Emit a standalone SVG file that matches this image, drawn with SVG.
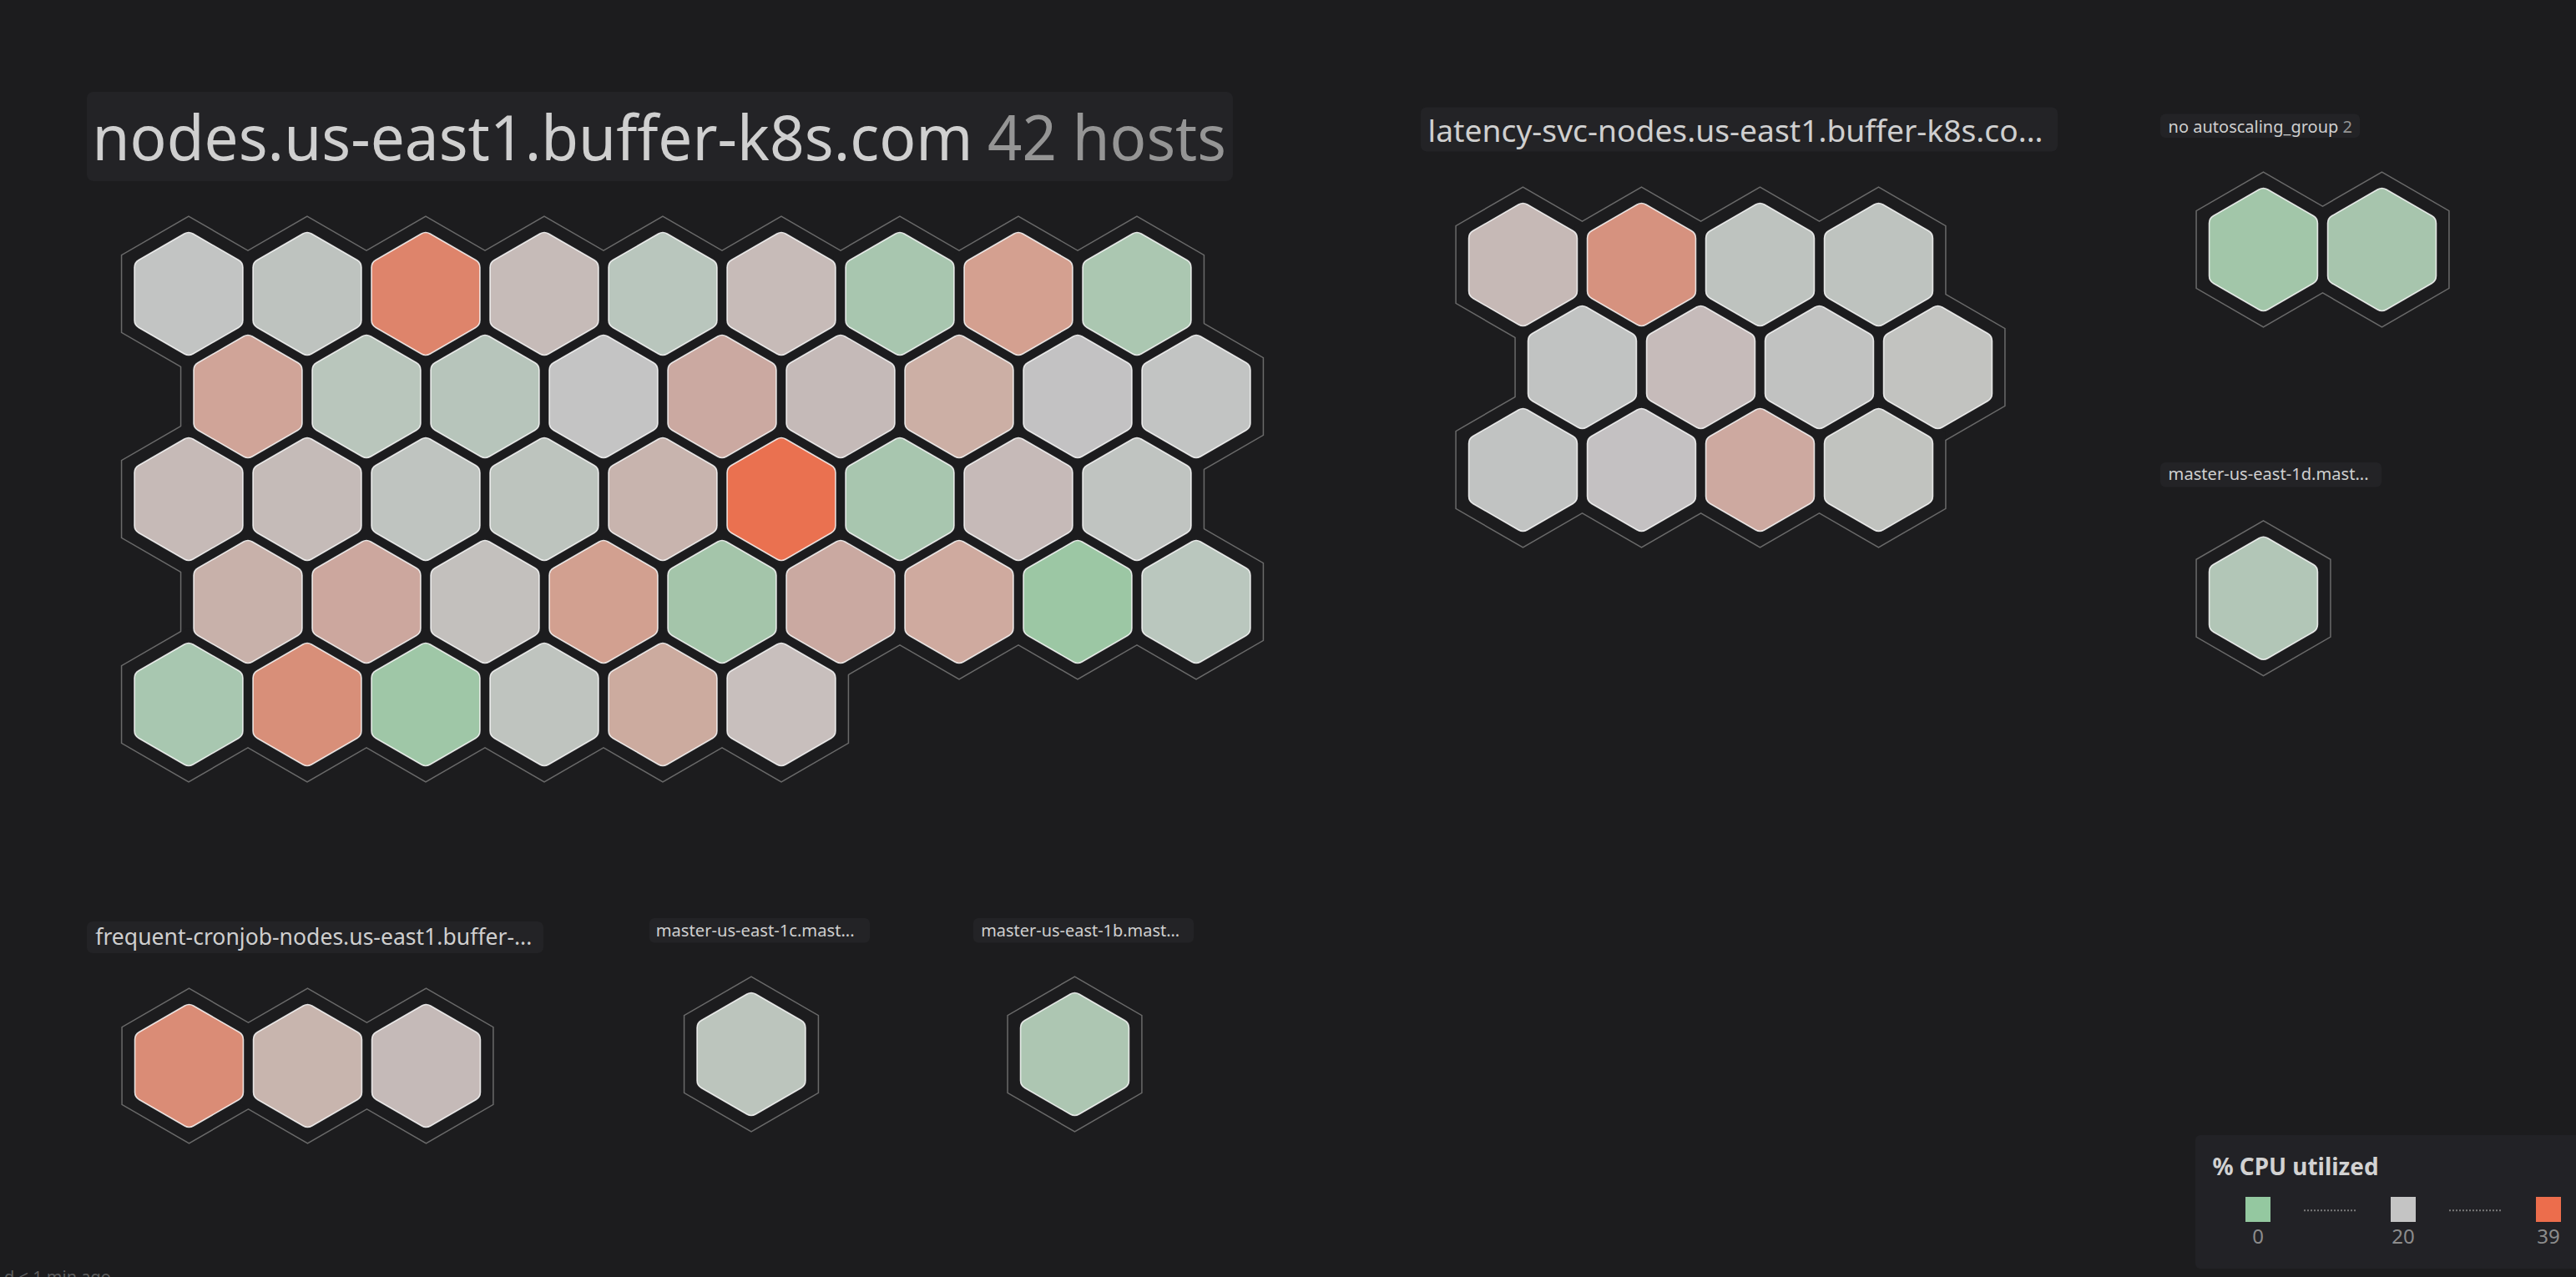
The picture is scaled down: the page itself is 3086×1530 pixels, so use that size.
<svg xmlns="http://www.w3.org/2000/svg" xmlns:xlink="http://www.w3.org/1999/xlink" width="3086" height="1530" viewBox="0 0 3086 1530">
<style>
text{font-family:"Noto Sans","Open Sans","DejaVu Sans",sans-serif}
.tb{fill:#232326}
.tt{fill:#cfcfcf}
.tc{fill:#959595}
.ol use{fill:none;stroke:#6a6a6a;stroke-width:3}
.cv use{fill:#1c1c1e;stroke:none}
.host use{stroke:#ffffff;stroke-opacity:.82;stroke-width:1.6}
.lg{fill:#8c8c8c;font-size:24px;text-anchor:middle}
.dot{stroke:#7a7a7a;stroke-width:2;stroke-dasharray:2 2}
</style>
<defs>
<path id="hx" d="M5.2,-72 L59.76,-40.5 Q64.95,-37.5 64.95,-31.5 L64.95,31.5 Q64.95,37.5 59.76,40.5 L5.2,72 Q0,75 -5.2,72 L-59.76,40.5 Q-64.95,37.5 -64.95,31.5 L-64.95,-31.5 Q-64.95,-37.5 -59.76,-40.5 L-5.2,-72 Q0,-75 5.2,-72 Z"/>
<polygon id="ho" points="0,-92 79.67,-46 79.67,46 0,92 -79.67,46 -79.67,-46"/>
</defs>
<rect width="3086" height="1530" fill="#1c1c1e"/>

<!-- Main cluster -->
<g id="cluster-nodes">
<rect class="tb" x="104" y="110" width="1373" height="107" rx="8"/>
<text class="tt" x="110.5" y="191.7" font-size="74" textLength="1055" lengthAdjust="spacingAndGlyphs">nodes.us-east1.buffer-k8s.com</text>
<text class="tc" x="1183" y="191.7" font-size="74" textLength="286" lengthAdjust="spacingAndGlyphs">42 hosts</text>
<g class="ol">
<use href="#ho" x="226" y="352"/><use href="#ho" x="368" y="352"/><use href="#ho" x="510" y="352"/><use href="#ho" x="652" y="352"/><use href="#ho" x="794" y="352"/><use href="#ho" x="936" y="352"/><use href="#ho" x="1078" y="352"/><use href="#ho" x="1220" y="352"/><use href="#ho" x="1362" y="352"/>
<use href="#ho" x="297" y="475"/><use href="#ho" x="439" y="475"/><use href="#ho" x="581" y="475"/><use href="#ho" x="723" y="475"/><use href="#ho" x="865" y="475"/><use href="#ho" x="1007" y="475"/><use href="#ho" x="1149" y="475"/><use href="#ho" x="1291" y="475"/><use href="#ho" x="1433" y="475"/>
<use href="#ho" x="226" y="598"/><use href="#ho" x="368" y="598"/><use href="#ho" x="510" y="598"/><use href="#ho" x="652" y="598"/><use href="#ho" x="794" y="598"/><use href="#ho" x="936" y="598"/><use href="#ho" x="1078" y="598"/><use href="#ho" x="1220" y="598"/><use href="#ho" x="1362" y="598"/>
<use href="#ho" x="297" y="721"/><use href="#ho" x="439" y="721"/><use href="#ho" x="581" y="721"/><use href="#ho" x="723" y="721"/><use href="#ho" x="865" y="721"/><use href="#ho" x="1007" y="721"/><use href="#ho" x="1149" y="721"/><use href="#ho" x="1291" y="721"/><use href="#ho" x="1433" y="721"/>
<use href="#ho" x="226" y="844"/><use href="#ho" x="368" y="844"/><use href="#ho" x="510" y="844"/><use href="#ho" x="652" y="844"/><use href="#ho" x="794" y="844"/><use href="#ho" x="936" y="844"/>
</g>
<g class="cv">
<use href="#ho" x="226" y="352"/><use href="#ho" x="368" y="352"/><use href="#ho" x="510" y="352"/><use href="#ho" x="652" y="352"/><use href="#ho" x="794" y="352"/><use href="#ho" x="936" y="352"/><use href="#ho" x="1078" y="352"/><use href="#ho" x="1220" y="352"/><use href="#ho" x="1362" y="352"/>
<use href="#ho" x="297" y="475"/><use href="#ho" x="439" y="475"/><use href="#ho" x="581" y="475"/><use href="#ho" x="723" y="475"/><use href="#ho" x="865" y="475"/><use href="#ho" x="1007" y="475"/><use href="#ho" x="1149" y="475"/><use href="#ho" x="1291" y="475"/><use href="#ho" x="1433" y="475"/>
<use href="#ho" x="226" y="598"/><use href="#ho" x="368" y="598"/><use href="#ho" x="510" y="598"/><use href="#ho" x="652" y="598"/><use href="#ho" x="794" y="598"/><use href="#ho" x="936" y="598"/><use href="#ho" x="1078" y="598"/><use href="#ho" x="1220" y="598"/><use href="#ho" x="1362" y="598"/>
<use href="#ho" x="297" y="721"/><use href="#ho" x="439" y="721"/><use href="#ho" x="581" y="721"/><use href="#ho" x="723" y="721"/><use href="#ho" x="865" y="721"/><use href="#ho" x="1007" y="721"/><use href="#ho" x="1149" y="721"/><use href="#ho" x="1291" y="721"/><use href="#ho" x="1433" y="721"/>
<use href="#ho" x="226" y="844"/><use href="#ho" x="368" y="844"/><use href="#ho" x="510" y="844"/><use href="#ho" x="652" y="844"/><use href="#ho" x="794" y="844"/><use href="#ho" x="936" y="844"/>
</g>
<g id="m-0-0" class="host"><use href="#hx" x="226" y="352" fill="#c2c4c3"/></g>
<g id="m-0-1" class="host"><use href="#hx" x="368" y="352" fill="#bec3bf"/></g>
<g id="m-0-2" class="host"><use href="#hx" x="510" y="352" fill="#de846b"/></g>
<g id="m-0-3" class="host"><use href="#hx" x="652" y="352" fill="#c6bbb8"/></g>
<g id="m-0-4" class="host"><use href="#hx" x="794" y="352" fill="#b9c6bd"/></g>
<g id="m-0-5" class="host"><use href="#hx" x="936" y="352" fill="#c7bbb8"/></g>
<g id="m-0-6" class="host"><use href="#hx" x="1078" y="352" fill="#a8c6af"/></g>
<g id="m-0-7" class="host"><use href="#hx" x="1220" y="352" fill="#d4a090"/></g>
<g id="m-0-8" class="host"><use href="#hx" x="1362" y="352" fill="#abc7b1"/></g>
<g id="m-1-0" class="host"><use href="#hx" x="297" y="475" fill="#d0a498"/></g>
<g id="m-1-1" class="host"><use href="#hx" x="439" y="475" fill="#b9c6bc"/></g>
<g id="m-1-2" class="host"><use href="#hx" x="581" y="475" fill="#b7c5bb"/></g>
<g id="m-1-3" class="host"><use href="#hx" x="723" y="475" fill="#c4c4c4"/></g>
<g id="m-1-4" class="host"><use href="#hx" x="865" y="475" fill="#cba9a1"/></g>
<g id="m-1-5" class="host"><use href="#hx" x="1007" y="475" fill="#c5bab8"/></g>
<g id="m-1-6" class="host"><use href="#hx" x="1149" y="475" fill="#ccafa5"/></g>
<g id="m-1-7" class="host"><use href="#hx" x="1291" y="475" fill="#c3c2c3"/></g>
<g id="m-1-8" class="host"><use href="#hx" x="1433" y="475" fill="#c2c4c3"/></g>
<g id="m-2-0" class="host"><use href="#hx" x="226" y="598" fill="#c6bab7"/></g>
<g id="m-2-1" class="host"><use href="#hx" x="368" y="598" fill="#c5bbb8"/></g>
<g id="m-2-2" class="host"><use href="#hx" x="510" y="598" fill="#bfc4c0"/></g>
<g id="m-2-3" class="host"><use href="#hx" x="652" y="598" fill="#bdc4be"/></g>
<g id="m-2-4" class="host"><use href="#hx" x="794" y="598" fill="#c8b4ae"/></g>
<g id="m-2-5" class="host"><use href="#hx" x="936" y="598" fill="#ea7150"/></g>
<g id="m-2-6" class="host"><use href="#hx" x="1078" y="598" fill="#a8c6af"/></g>
<g id="m-2-7" class="host"><use href="#hx" x="1220" y="598" fill="#c6bab8"/></g>
<g id="m-2-8" class="host"><use href="#hx" x="1362" y="598" fill="#c0c4c1"/></g>
<g id="m-3-0" class="host"><use href="#hx" x="297" y="721" fill="#c8b1aa"/></g>
<g id="m-3-1" class="host"><use href="#hx" x="439" y="721" fill="#cca79e"/></g>
<g id="m-3-2" class="host"><use href="#hx" x="581" y="721" fill="#c3c0bd"/></g>
<g id="m-3-3" class="host"><use href="#hx" x="723" y="721" fill="#d2a090"/></g>
<g id="m-3-4" class="host"><use href="#hx" x="865" y="721" fill="#a4c5aa"/></g>
<g id="m-3-5" class="host"><use href="#hx" x="1007" y="721" fill="#caa9a1"/></g>
<g id="m-3-6" class="host"><use href="#hx" x="1149" y="721" fill="#cfaa9f"/></g>
<g id="m-3-7" class="host"><use href="#hx" x="1291" y="721" fill="#9cc7a4"/></g>
<g id="m-3-8" class="host"><use href="#hx" x="1433" y="721" fill="#bac7be"/></g>
<g id="m-4-0" class="host"><use href="#hx" x="226" y="844" fill="#a8c7b0"/></g>
<g id="m-4-1" class="host"><use href="#hx" x="368" y="844" fill="#d88f79"/></g>
<g id="m-4-2" class="host"><use href="#hx" x="510" y="844" fill="#9fc7a7"/></g>
<g id="m-4-3" class="host"><use href="#hx" x="652" y="844" fill="#bfc4bf"/></g>
<g id="m-4-4" class="host"><use href="#hx" x="794" y="844" fill="#ccab9f"/></g>
<g id="m-4-5" class="host"><use href="#hx" x="936" y="844" fill="#c8bfbd"/></g>
</g>

<!-- Latency cluster -->
<g id="cluster-latency">
<rect class="tb" x="1702" y="128.5" width="763" height="53" rx="7"/>
<text class="tt" x="1710.6" y="170.4" font-size="37" textLength="737" lengthAdjust="spacingAndGlyphs">latency-svc-nodes.us-east1.buffer-k8s.co...</text>
<g class="ol">
<use href="#ho" x="1824.5" y="317"/><use href="#ho" x="1966.5" y="317"/><use href="#ho" x="2108.5" y="317"/><use href="#ho" x="2250.5" y="317"/>
<use href="#ho" x="1895.5" y="440"/><use href="#ho" x="2037.5" y="440"/><use href="#ho" x="2179.5" y="440"/><use href="#ho" x="2321.5" y="440"/>
<use href="#ho" x="1824.5" y="563"/><use href="#ho" x="1966.5" y="563"/><use href="#ho" x="2108.5" y="563"/><use href="#ho" x="2250.5" y="563"/>
</g>
<g class="cv">
<use href="#ho" x="1824.5" y="317"/><use href="#ho" x="1966.5" y="317"/><use href="#ho" x="2108.5" y="317"/><use href="#ho" x="2250.5" y="317"/>
<use href="#ho" x="1895.5" y="440"/><use href="#ho" x="2037.5" y="440"/><use href="#ho" x="2179.5" y="440"/><use href="#ho" x="2321.5" y="440"/>
<use href="#ho" x="1824.5" y="563"/><use href="#ho" x="1966.5" y="563"/><use href="#ho" x="2108.5" y="563"/><use href="#ho" x="2250.5" y="563"/>
</g>
<g id="l-0-0" class="host"><use href="#hx" x="1824.5" y="317" fill="#c6b9b6"/></g>
<g id="l-0-1" class="host"><use href="#hx" x="1966.5" y="317" fill="#d6927f"/></g>
<g id="l-0-2" class="host"><use href="#hx" x="2108.5" y="317" fill="#bec3bf"/></g>
<g id="l-0-3" class="host"><use href="#hx" x="2250.5" y="317" fill="#bec3bf"/></g>
<g id="l-1-0" class="host"><use href="#hx" x="1895.5" y="440" fill="#c1c3c2"/></g>
<g id="l-1-1" class="host"><use href="#hx" x="2037.5" y="440" fill="#c6bbba"/></g>
<g id="l-1-2" class="host"><use href="#hx" x="2179.5" y="440" fill="#c1c2c1"/></g>
<g id="l-1-3" class="host"><use href="#hx" x="2321.5" y="440" fill="#c2c3c0"/></g>
<g id="l-2-0" class="host"><use href="#hx" x="1824.5" y="563" fill="#c1c3c2"/></g>
<g id="l-2-1" class="host"><use href="#hx" x="1966.5" y="563" fill="#c4c1c2"/></g>
<g id="l-2-2" class="host"><use href="#hx" x="2108.5" y="563" fill="#cda9a0"/></g>
<g id="l-2-3" class="host"><use href="#hx" x="2250.5" y="563" fill="#c1c3bf"/></g>
</g>

<!-- No autoscaling group -->
<g id="cluster-no-asg">
<rect class="tb" x="2588" y="136.5" width="239" height="28.5" rx="6"/>
<text class="tt" x="2597.6" y="159" font-size="20">no autoscaling_group <tspan class="tc">2</tspan></text>
<g class="ol"><use href="#ho" x="2711.5" y="299"/><use href="#ho" x="2853.5" y="299"/></g>
<g class="cv"><use href="#ho" x="2711.5" y="299"/><use href="#ho" x="2853.5" y="299"/></g>
<g id="n-0" class="host"><use href="#hx" x="2711.5" y="299" fill="#a2c6a9"/></g>
<g id="n-1" class="host"><use href="#hx" x="2853.5" y="299" fill="#a7c5ad"/></g>
</g>

<!-- master-us-east-1d -->
<g id="cluster-master-1d">
<rect class="tb" x="2588" y="554" width="265" height="29.5" rx="6"/>
<text class="tt" x="2597.6" y="575" font-size="20" textLength="240" lengthAdjust="spacingAndGlyphs">master-us-east-1d.mast...</text>
<g class="ol"><use href="#ho" x="2711.5" y="716.7"/></g>
<g class="cv"><use href="#ho" x="2711.5" y="716.7"/></g>
<g id="d-0" class="host"><use href="#hx" x="2711.5" y="716.7" fill="#b2c6b7"/></g>
</g>

<!-- frequent-cronjob -->
<g id="cluster-frequent">
<rect class="tb" x="104" y="1104" width="547" height="38" rx="7"/>
<text class="tt" x="114.3" y="1131.7" font-size="26.5" textLength="523" lengthAdjust="spacingAndGlyphs">frequent-cronjob-nodes.us-east1.buffer-...</text>
<g class="ol"><use href="#ho" x="226.5" y="1277"/><use href="#ho" x="368.5" y="1277"/><use href="#ho" x="510.5" y="1277"/></g>
<g class="cv"><use href="#ho" x="226.5" y="1277"/><use href="#ho" x="368.5" y="1277"/><use href="#ho" x="510.5" y="1277"/></g>
<g id="f-0" class="host"><use href="#hx" x="226.5" y="1277" fill="#da8c76"/></g>
<g id="f-1" class="host"><use href="#hx" x="368.5" y="1277" fill="#c8b5ae"/></g>
<g id="f-2" class="host"><use href="#hx" x="510.5" y="1277" fill="#c5bab8"/></g>
</g>

<!-- master-us-east-1c -->
<g id="cluster-master-1c">
<rect class="tb" x="778" y="1100" width="264" height="29.5" rx="6"/>
<text class="tt" x="785.7" y="1121.7" font-size="20" textLength="238" lengthAdjust="spacingAndGlyphs">master-us-east-1c.mast...</text>
<g class="ol"><use href="#ho" x="900" y="1263"/></g>
<g class="cv"><use href="#ho" x="900" y="1263"/></g>
<g id="c-0" class="host"><use href="#hx" x="900" y="1263" fill="#bcc5bd"/></g>
</g>

<!-- master-us-east-1b -->
<g id="cluster-master-1b">
<rect class="tb" x="1166" y="1100" width="264" height="29.5" rx="6"/>
<text class="tt" x="1175.2" y="1121.7" font-size="20" textLength="238" lengthAdjust="spacingAndGlyphs">master-us-east-1b.mast...</text>
<g class="ol"><use href="#ho" x="1287.5" y="1263"/></g>
<g class="cv"><use href="#ho" x="1287.5" y="1263"/></g>
<g id="b-0" class="host"><use href="#hx" x="1287.5" y="1263" fill="#adc6b2"/></g>
</g>

<!-- Legend -->
<g id="legend">
<rect x="2630" y="1360" width="470" height="160" rx="6" fill="#222226"/>
<text x="2650.5" y="1408.3" font-size="28" font-weight="bold" fill="#d2d2d2" textLength="199" lengthAdjust="spacingAndGlyphs">% CPU utilized</text>
<rect x="2690" y="1434" width="30" height="30" fill="#94c8a0"/>
<rect x="2864" y="1434" width="30" height="30" fill="#c4c4c4"/>
<rect x="3038" y="1434" width="30" height="30" fill="#ec6d4c"/>
<line class="dot" x1="2760" y1="1450.3" x2="2824" y2="1450.3"/>
<line class="dot" x1="2934" y1="1450.3" x2="2998" y2="1450.3"/>
<text class="lg" x="2705" y="1490">0</text>
<text class="lg" x="2879" y="1490">20</text>
<text class="lg" x="3053" y="1490">39</text>
</g>

<text x="5" y="1537" font-size="20" fill="#5e5e5e">d &lt; 1 min ago</text>
</svg>
